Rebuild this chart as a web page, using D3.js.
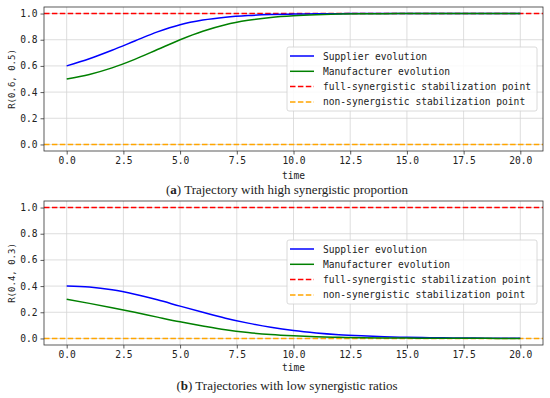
<!DOCTYPE html>
<html>
<head>
<meta charset="utf-8">
<script src="https://cdn.jsdelivr.net/npm/d3@7"></script>
<style>
    body { margin: 0; background: #fff; }
    .mono { font-family: "DejaVu Sans Mono", "Liberation Mono", monospace; }
    .tick-label { font-size: 9.6px; fill: #222; }
    .grid line { stroke: #d6d6d6; stroke-width: 0.8; }
    .caption { font-family: "Liberation Serif", "DejaVu Serif", serif; font-size: 13px; fill: #222; }
</style>
</head>
<body>
<svg id="chart" width="550" height="398"></svg>
<script>
// time samples and trajectories
const timeSteps = [0, 1, 2, 3, 4, 5, 6, 7, 8, 9, 10, 11, 12, 13, 14, 15, 16, 17, 18, 19, 20];

const supplierHigh = [0.600, 0.655, 0.720, 0.790, 0.860, 0.915, 0.950, 0.972, 0.985, 0.992, 0.996, 0.998, 0.999, 1.0, 1.0, 1.0, 1.0, 1.0, 1.0, 1.0, 1.0];
const manufacturerHigh = [0.500, 0.535, 0.585, 0.650, 0.725, 0.800, 0.865, 0.915, 0.948, 0.970, 0.983, 0.991, 0.996, 0.998, 0.999, 1.0, 1.0, 1.0, 1.0, 1.0, 1.0];

const supplierLow = [0.400, 0.393, 0.372, 0.338, 0.295, 0.247, 0.200, 0.155, 0.117, 0.085, 0.060, 0.042, 0.029, 0.020, 0.013, 0.009, 0.006, 0.004, 0.003, 0.002, 0.001];
const manufacturerLow = [0.300, 0.268, 0.235, 0.200, 0.163, 0.127, 0.095, 0.066, 0.045, 0.030, 0.020, 0.013, 0.009, 0.006, 0.004, 0.003, 0.002, 0.001, 0.001, 0.0005, 0.0];

const fullPoint = 1.0;
const nonPoint = 0.0;

const xTicks = [0, 2.5, 5, 7.5, 10, 12.5, 15, 17.5, 20];
const yTicks = [0, 0.2, 0.4, 0.6, 0.8, 1.0];

const legendLabels = ['Supplier evolution', 'Manufacturer evolution', 'full-synergistic stabilization point', 'non-synergistic stabilization point'];
const yLabels = ['R(0.6, 0.5)', 'R(0.4, 0.3)'];
const captionTags = ['a', 'b'];
const captionTexts = [' Trajectory with high synergistic proportion', ' Trajectories with low synergistic ratios'];

const colors = { supplier: '#0000ff', manufacturer: '#008000', full: '#ff0000', non: '#ffa500' };

const panels = [
    { top: 7, supplier: supplierHigh, manufacturer: manufacturerHigh, legendTop: 47, timeGap: 28, captionGap: 43 },
    { top: 201, supplier: supplierLow, manufacturer: manufacturerLow, legendTop: 240, timeGap: 26, captionGap: 45 }
];

const svg = d3.select('#chart');
const left = 44, right = 543, plotH = 144;

panels.forEach((p, idx) => {
    const x = d3.scaleLinear().domain([-1, 21]).range([left, right]);
    const y = d3.scaleLinear().domain([-0.05, 1.05]).range([p.top + plotH, p.top]);

    const g = svg.append('g');

    // grid
    const grid = g.append('g').attr('class', 'grid');
    grid.selectAll('.gx').data(xTicks).enter().append('line')
        .attr('x1', d => x(d)).attr('x2', d => x(d))
        .attr('y1', p.top).attr('y2', p.top + plotH);
    grid.selectAll('.gy').data(yTicks).enter().append('line')
        .attr('x1', left).attr('x2', right)
        .attr('y1', d => y(d)).attr('y2', d => y(d));

    // reference lines
    g.append('line')
        .attr('x1', left).attr('x2', right)
        .attr('y1', y(fullPoint)).attr('y2', y(fullPoint))
        .attr('stroke', colors.full).attr('stroke-width', 1.5).attr('stroke-dasharray', '5.5,2.4');
    g.append('line')
        .attr('x1', left).attr('x2', right)
        .attr('y1', y(nonPoint)).attr('y2', y(nonPoint))
        .attr('stroke', colors.non).attr('stroke-width', 1.5).attr('stroke-dasharray', '5.5,2.4');

    const line = d3.line()
        .x((d, i) => x(timeSteps[i]))
        .y(d => y(d))
        .curve(d3.curveMonotoneX);

    g.append('path').datum(p.supplier)
        .attr('d', line).attr('fill', 'none')
        .attr('stroke', colors.supplier).attr('stroke-width', 1.5);
    g.append('path').datum(p.manufacturer)
        .attr('d', line).attr('fill', 'none')
        .attr('stroke', colors.manufacturer).attr('stroke-width', 1.5);

    // axes
    const xAxis = g.append('g')
        .attr('transform', `translate(0,${p.top + plotH})`)
        .call(d3.axisBottom(x).tickValues(xTicks).tickSize(3.5).tickPadding(3).tickFormat(d3.format('.1f')));
    const yAxis = g.append('g')
        .attr('transform', `translate(${left},0)`)
        .call(d3.axisLeft(y).tickValues(yTicks).tickSize(3.5).tickPadding(3).tickFormat(d3.format('.1f')));
    [xAxis, yAxis].forEach(a => {
        a.select('.domain').remove();
        a.selectAll('line').attr('stroke', '#333').attr('stroke-width', 0.8);
        a.selectAll('text').attr('class', 'mono tick-label').attr('font-family', null).attr('font-size', null);
    });

    // frame
    g.append('rect')
        .attr('x', left).attr('y', p.top)
        .attr('width', right - left).attr('height', plotH)
        .attr('fill', 'none').attr('stroke', '#333').attr('stroke-width', 0.8);

    // axis labels
    g.append('text')
        .attr('class', 'mono tick-label')
        .attr('x', (left + right) / 2)
        .attr('y', p.top + plotH + p.timeGap)
        .attr('text-anchor', 'middle')
        .text('time');
    g.append('text')
        .attr('class', 'mono tick-label')
        .attr('transform', `translate(15,${p.top + plotH / 2}) rotate(-90)`)
        .attr('text-anchor', 'middle')
        .style('font-size', '9px')
        .text(yLabels[idx]);

    // legend
    const lg = g.append('g').attr('transform', `translate(287,${p.legendTop})`);
    lg.append('rect')
        .attr('width', 250).attr('height', 64).attr('rx', 2)
        .attr('fill', 'rgba(255,255,255,0.85)').attr('stroke', '#d0d0d0').attr('stroke-width', 0.8);
    const legendStyles = [
        { color: colors.supplier, dash: null },
        { color: colors.manufacturer, dash: null },
        { color: colors.full, dash: '5.5,2.4' },
        { color: colors.non, dash: '5.5,2.4' }
    ];
    legendLabels.forEach((label, i) => {
        const ly = 9 + i * 15.3;
        lg.append('line')
            .attr('x1', 3).attr('x2', 27).attr('y1', ly).attr('y2', ly)
            .attr('stroke', legendStyles[i].color).attr('stroke-width', 1.5)
            .attr('stroke-dasharray', legendStyles[i].dash);
        lg.append('text')
            .attr('class', 'mono tick-label')
            .attr('x', 36).attr('y', ly + 3.5)
            .text(label);
    });

    // caption
    const cap = g.append('text')
        .attr('class', 'caption')
        .attr('x', 287)
        .attr('y', p.top + plotH + p.captionGap)
        .attr('text-anchor', 'middle');
    cap.append('tspan').text('(');
    cap.append('tspan').attr('font-weight', 'bold').text(captionTags[idx]);
    cap.append('tspan').text(')' + captionTexts[idx]);
});
</script>
</body>
</html>
